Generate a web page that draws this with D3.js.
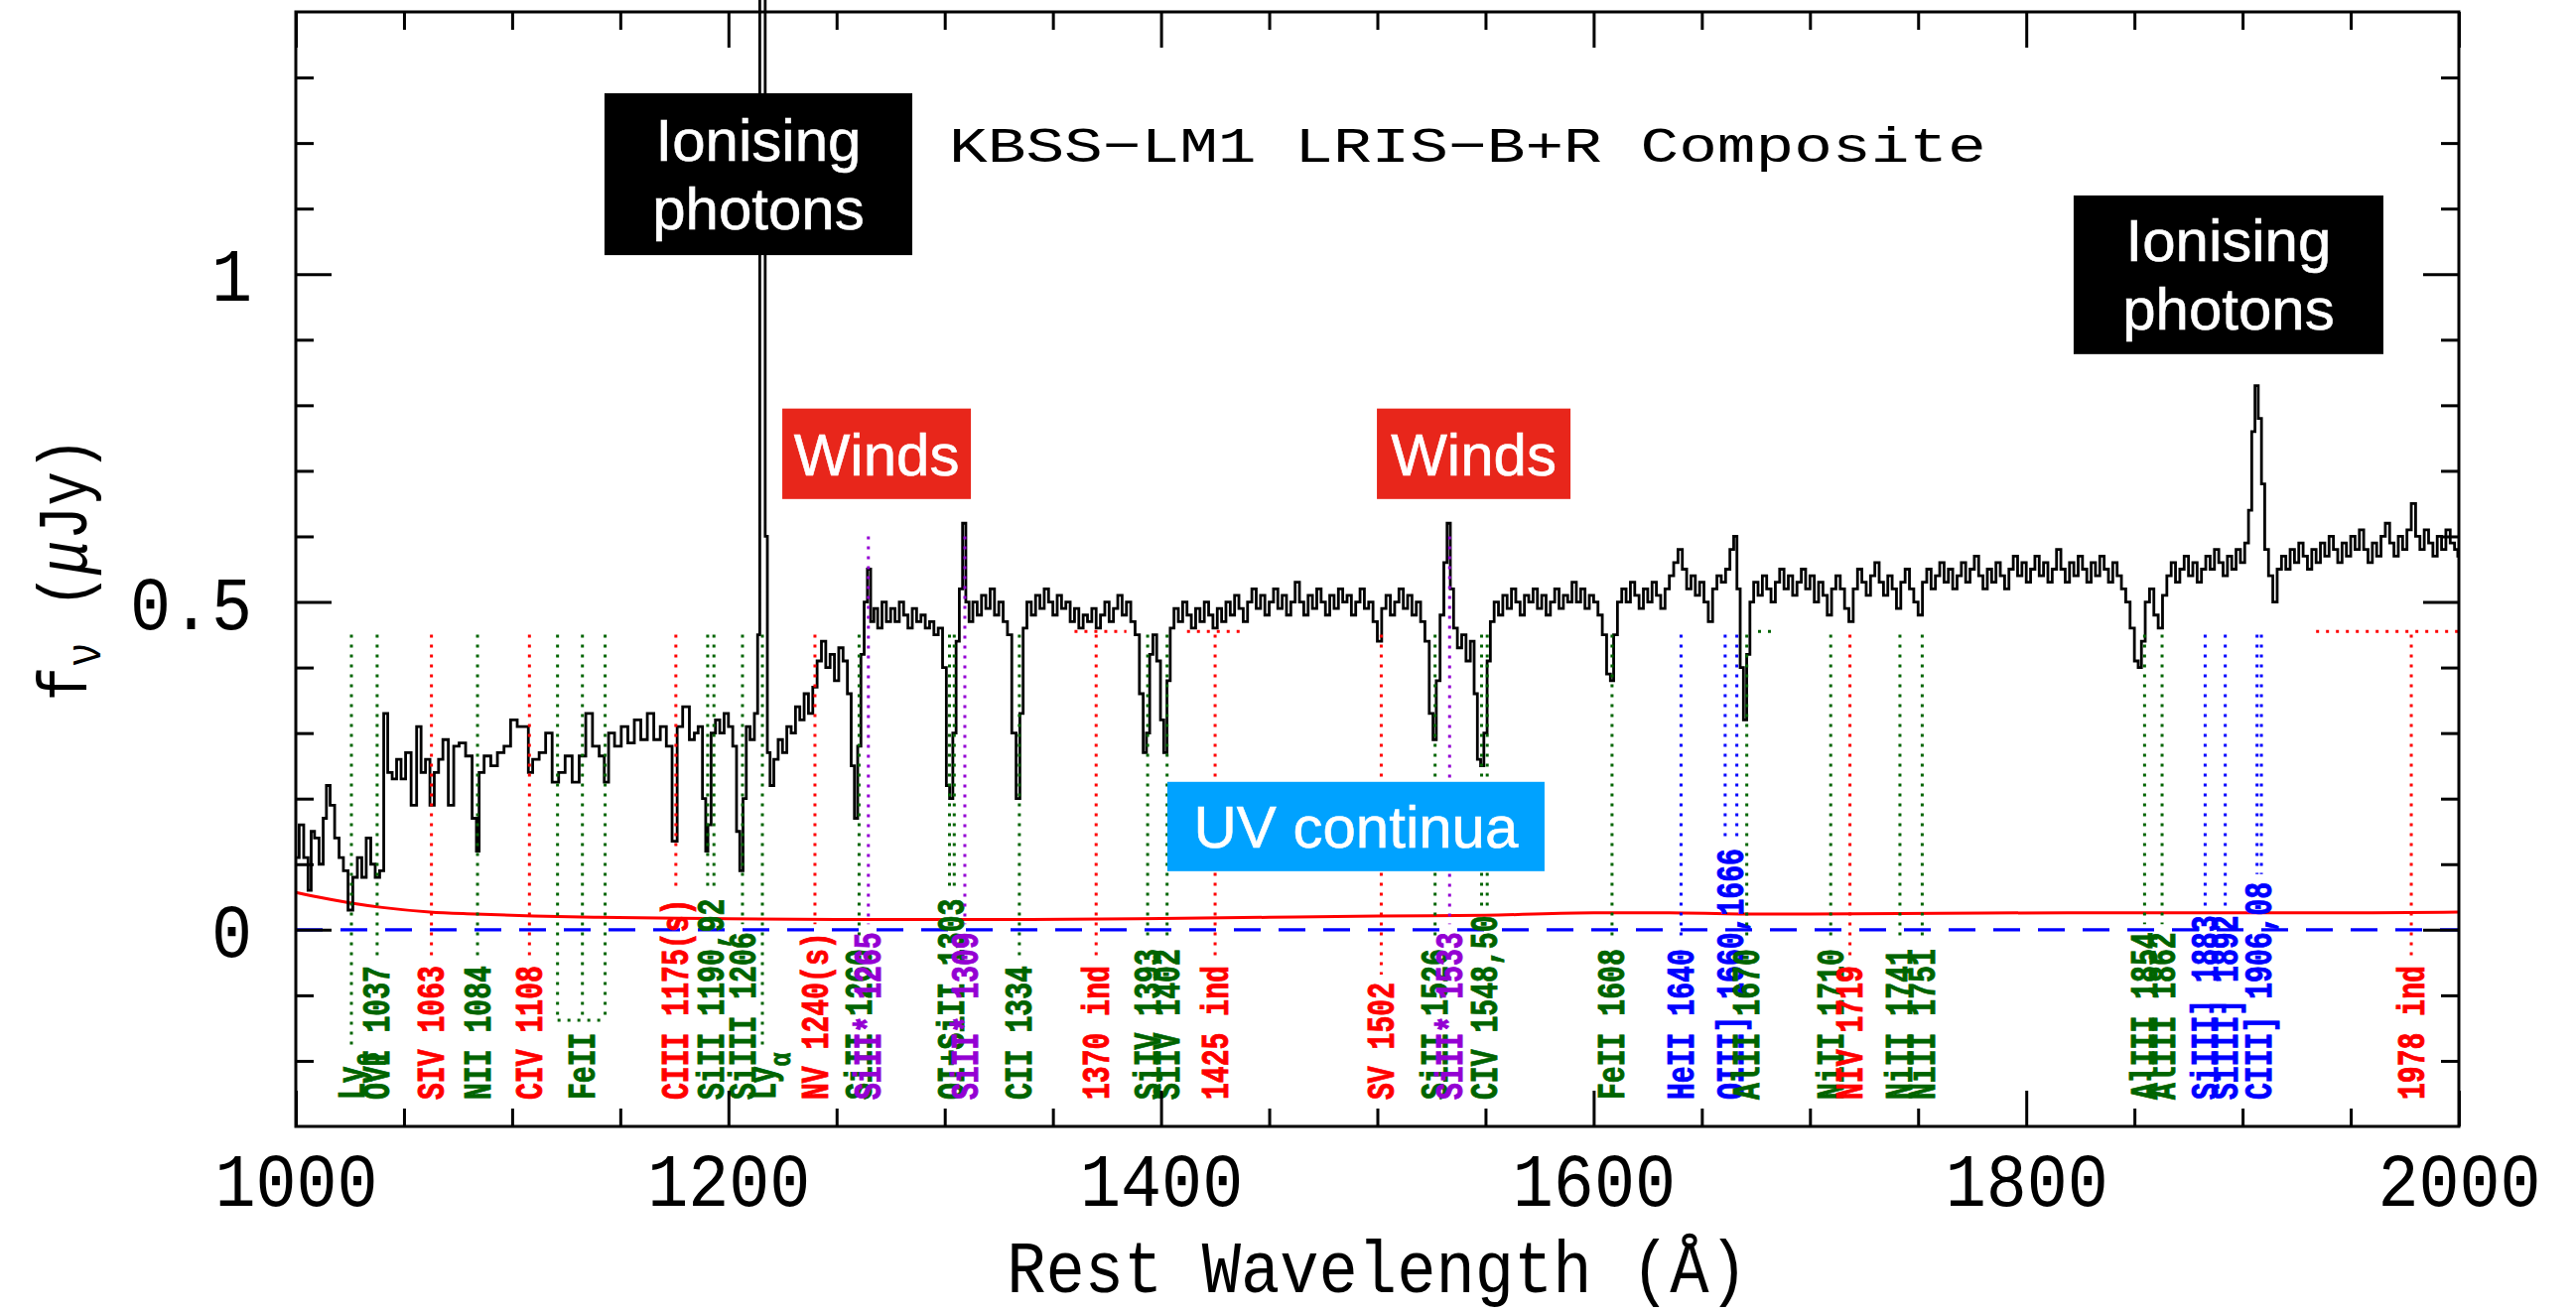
<!DOCTYPE html>
<html>
<head>
<meta charset="utf-8">
<script src="https://cdn.jsdelivr.net/npm/d3@7"></script>
<style>
  body { margin: 0; background: #fff; }
  svg { display: block; overflow: visible; }
</style>
</head>
<body>
<svg id="chart" width="2595" height="1323"></svg>
<script>
// ---- Composite spectrum (rest wavelength in Angstrom, flux density in microJy) ----
const wavelength = [
  1000.5,1002.6,1004.7,1006.6,1007.6,1009.7,1011.8,1013.5,1014.8,1016.9,1019,1021,1023,1025.3,1027.4,1029.5,1031.5,1033.6,1035.7,1037.7,1039.8,
  1041.5,1043.5,1045.6,1047.6,1049.7,1051.8,1054.8,1056.9,1058.9,1061,1063,1065,1067,1069,1072,1074,1077,1080,1083,1084,1085.5,1088.6,
  1091.7,1094.7,1097.8,1100.8,1103.9,1107,1108,1111,1114,1117,1120,1123,1126,1129.5,1132.5,1135.6,1138.7,1141.8,1143.4,1145.8,1148.9,
  1152,1155,1158,1161,1164,1167,1170,1172.6,1175.3,1177.3,1180.4,1183.5,
  1185,1187,1189,1190,1191,1193,1195,1197,1199,1201,1203,1204.5,1206,1207.5,1209,1211,1213,1214,1215,1216.5,1217.5,1218.5,1220,1222,
  1224,1226,1228,1230,1232,1234,1236,1238,1240,1242,1244,1246,1248,1250,1252,1254,1256,1257.5,1259,1260.5,1262,1263.5,1265,1266.5,
  1268,1270,1272,1274,1276,1278,1280,1282,1284,1286,1288,1290,1292,1294,1296,1298,1300,1301.5,1303,1304.5,1306,1307.5,1309,1310.5,
  1312,1314,1316,1318,1320,1322,1324,1326,1328,1330,1332,1334,1335.5,1337,1339,1341,1343,1345,1347,1349,1351,1353,1355,1357,1359,
  1361,1363,1365,1367,1369,1371,1373,1375,1377,1379,1381,1383,1385,1387,1389,1391,1392.5,1394,1395.5,1397,1399,1400.5,1402,1403.5,
  1405,1407,1409,1411,1413,1415,1417,1419,1421,1423,1425,1427,1429,1431,1433,1435,1437,1439,1441,1443,1445,1447,1449,1451,1453,1455,
  1457,1459,1461,1463,1465,1467,1469,1471,1473,1475,1477,1479,1481,1483,1485,1487,1489,1491,1493,1495,1497,1499,1501,1503,1505,1507,
  1509,1511,1513,1515,1517,1519,1521,1523,1525,1526.5,1528,1530,1531.5,1533,1534.5,1536,1538,1540,1542,1544,1545.5,1547,1548.5,1550,
  1551.5,1553,1555,1557,1559,1561,1563,1565,1567,1569,1571,1573,1575,1577,1579,1581,1583,1585,1587,1589,1591,1593,1595,1597,1599,
  1601,1603,1605,1607,1608.5,1610,1612,1614,1616,1618,1620,1622,1624,1626,1628,1630,1632,1634,1636,1638,1640,1642,1644,1646,1648,
  1650,1652,1654,1656,1658,1660,1662,1664,1665.5,1667,1668.5,1670,1671.5,1673,1675,1677,1679,1681,1683,1685,1687,1689,1691,1693,1695,
  1697,1699,1701,1703,1705,1707,1709,1711,1713,1715,1717,1719,1721,1723,1725,1727,1729,1731,1733,1735,1737,1739,1741,1743,1745,1747,
  1749,1751,1753,1755,1757,1759,1761,1763,1765,1767,1769,1771,1773,1775,1777,1779,1781,1783,1785,1787,1789,1791,1793,1795,1797,1799,
  1801,1803,1805,1807,1809,1811,1813,1815,1817,1819,1821,1823,1825,1827,1829,1831,1833,1835,1837,1839,1841,1843,1845,1847,1849,1851,
  1852.5,1854,1856,1858,1860,1862,1864,1866,1868,1870,1872,1874,1876,1878,1880,1882,1884,1886,1888,1890,1892,1894,1896,1898,1900,1902,
  1903.5,1905,1906.5,1908,1909.5,1911,1913,1915,1917,1919,1921,1923,1925,1927,1929,1931,1933,1935,1937,1939,1941,1943,1945,1947,1949,
  1951,1953,1955,1957,1959,1961,1963,1965,1967,1969,1971,1973,1975,1977,1979,1981,1983,1985,1987,1989,1991,1993,1995,1997,1999,2000
];
const flux = [
  0.11,0.16,0.11,0.06,0.15,0.14,0.10,0.17,0.22,0.19,0.14,0.11,0.09,0.03,0.08,0.11,0.08,0.14,0.10,0.08,0.09,
  0.33,0.24,0.23,0.26,0.23,0.27,0.19,0.31,0.24,0.26,0.19,0.24,0.26,0.29,0.19,0.28,0.285,0.265,0.17,0.12,0.24,0.265,
  0.25,0.27,0.28,0.32,0.31,0.31,0.24,0.26,0.27,0.30,0.225,0.24,0.265,0.225,0.265,0.33,0.28,0.265,0.225,0.30,0.28,
  0.31,0.285,0.32,0.29,0.33,0.29,0.31,0.28,0.135,0.31,0.34,0.29,
  0.30,0.31,0.20,0.12,0.16,0.30,0.32,0.30,0.33,0.31,0.28,0.15,0.09,0.20,0.31,0.29,0.33,0.45,1.50,1.50,0.60,0.27,0.22,0.26,
  0.29,0.27,0.31,0.30,0.34,0.32,0.36,0.33,0.37,0.41,0.44,0.40,0.42,0.38,0.43,0.41,0.36,0.25,0.17,0.28,0.42,0.50,0.55,0.47,
  0.49,0.46,0.50,0.47,0.49,0.47,0.50,0.48,0.46,0.49,0.47,0.48,0.46,0.47,0.45,0.46,0.40,0.22,0.20,0.30,0.44,0.52,0.62,0.50,
  0.47,0.50,0.48,0.51,0.49,0.52,0.48,0.50,0.47,0.45,0.30,0.20,0.33,0.46,0.50,0.48,0.51,0.49,0.52,0.50,0.48,0.51,0.49,0.50,0.47,
  0.49,0.46,0.48,0.47,0.49,0.46,0.48,0.50,0.47,0.49,0.51,0.48,0.50,0.47,0.45,0.36,0.27,0.30,0.42,0.45,0.41,0.32,0.27,0.38,
  0.46,0.49,0.47,0.50,0.48,0.46,0.49,0.47,0.50,0.48,0.46,0.49,0.47,0.50,0.48,0.51,0.49,0.47,0.50,0.52,0.49,0.51,0.48,0.50,0.52,0.49,
  0.51,0.48,0.50,0.53,0.50,0.48,0.51,0.49,0.52,0.50,0.48,0.51,0.49,0.52,0.50,0.51,0.48,0.50,0.52,0.49,0.50,0.47,0.44,0.49,0.51,0.48,
  0.50,0.52,0.49,0.51,0.48,0.50,0.47,0.44,0.33,0.29,0.38,0.48,0.56,0.62,0.52,0.46,0.43,0.45,0.41,0.44,0.36,0.26,0.25,0.30,
  0.41,0.47,0.50,0.48,0.51,0.49,0.52,0.50,0.48,0.51,0.50,0.52,0.49,0.51,0.48,0.50,0.52,0.49,0.51,0.50,0.53,0.50,0.52,0.49,0.51,
  0.50,0.48,0.45,0.39,0.38,0.45,0.50,0.52,0.50,0.53,0.51,0.49,0.52,0.50,0.53,0.51,0.49,0.52,0.54,0.56,0.58,0.55,0.52,0.54,0.51,
  0.53,0.50,0.47,0.52,0.54,0.53,0.55,0.58,0.60,0.52,0.40,0.32,0.42,0.50,0.53,0.51,0.54,0.52,0.50,0.53,0.55,0.52,0.54,0.51,0.53,
  0.55,0.52,0.54,0.50,0.53,0.51,0.48,0.52,0.54,0.52,0.49,0.47,0.52,0.55,0.53,0.51,0.54,0.56,0.53,0.51,0.54,0.52,0.49,0.53,0.55,0.52,
  0.50,0.48,0.53,0.55,0.52,0.54,0.56,0.53,0.55,0.52,0.54,0.56,0.53,0.55,0.57,0.54,0.52,0.55,0.53,0.56,0.54,0.52,0.55,0.57,0.54,0.56,
  0.53,0.55,0.57,0.54,0.56,0.53,0.55,0.58,0.55,0.53,0.56,0.54,0.57,0.55,0.53,0.56,0.54,0.57,0.55,0.53,0.56,0.54,0.52,0.50,0.46,0.41,
  0.40,0.44,0.50,0.52,0.48,0.46,0.51,0.54,0.56,0.53,0.55,0.57,0.54,0.56,0.53,0.55,0.57,0.55,0.58,0.56,0.54,0.57,0.55,0.58,0.56,0.59,
  0.64,0.76,0.83,0.78,0.68,0.58,0.54,0.50,0.55,0.57,0.55,0.58,0.56,0.59,0.57,0.55,0.58,0.56,0.59,0.57,0.60,0.58,0.56,0.59,0.57,
  0.60,0.58,0.61,0.58,0.56,0.59,0.57,0.60,0.62,0.59,0.57,0.60,0.58,0.61,0.65,0.60,0.58,0.61,0.59,0.57,0.60,0.58,0.61,0.59,0.58,0.57
];

// ---- Error spectrum ----
const errWave = [1000,1010,1025,1040,1062,1083,1110,1140,1190,1250,1340,1400,1450,1500,1550,1600,1635,1668,1700,1760,1820,1960,2000];
const errFlux = [0.057,0.050,0.041,0.034,0.027,0.024,0.021,0.019,0.017,0.0155,0.0155,0.017,0.019,0.021,0.022,0.026,0.026,0.024,0.024,0.025,0.026,0.026,0.027];

// ---- Axis ticks ----
const xMajorTicks = [1000, 1200, 1400, 1600, 1800, 2000];
const xMinorTicks = [1050,1100,1150,1250,1300,1350,1450,1500,1550,1650,1700,1750,1850,1900,1950];
const yMajorTicks = [0, 0.5, 1];
const yMinorTicks = [-0.2,-0.1,0.1,0.2,0.3,0.4,0.6,0.7,0.8,0.9,1.1,1.2,1.3];

// ---- Line identifications ----
const lineIds = [
  { w: [1025.7], text: "Ly", sub: "β", kind: "ism" },
  { w: [1037.6], text: "OVI 1037", kind: "ism" },
  { w: [1062.7], text: "SIV 1063", kind: "stellar" },
  { w: [1084.0], text: "NII 1084", kind: "ism" },
  { w: [1108.0], text: "CIV 1108", kind: "stellar" },
  { w: [1121.0, 1132.5, 1143.0], text: "FeII", kind: "ism", bracket: -0.138 },
  { w: [1175.7], text: "CIII 1175(s)", kind: "stellar" },
  { w: [1190.4, 1193.3], text: "SiII 1190,92", kind: "ism" },
  { w: [1206.5], text: "SiIII 1206", kind: "ism" },
  { w: [1215.7], text: "Ly", sub: "α", kind: "ism" },
  { w: [1240.0], text: "NV 1240(s)", kind: "stellar" },
  { w: [1260.4], text: "SiII 1260", kind: "ism" },
  { w: [1264.7], text: "SiII* 1265", kind: "fine" },
  { w: [1302.2, 1304.4], text: "OI+SiII 1303", kind: "ism" },
  { w: [1309.3], text: "SiII* 1309", kind: "fine" },
  { w: [1334.5], text: "CII 1334", kind: "ism" },
  { w: [1370.0], text: "1370 ind", kind: "stellar", band: [1360, 1384] },
  { w: [1393.8], text: "SiIV 1393", kind: "ism" },
  { w: [1402.8], text: "SiIV 1402", kind: "ism" },
  { w: [1425.0], text: "1425 ind", kind: "stellar", band: [1412, 1437] },
  { w: [1501.8], text: "SV 1502", kind: "stellar" },
  { w: [1526.7], text: "SiII 1526", kind: "ism" },
  { w: [1533.4], text: "SiII* 1533", kind: "fine" },
  { w: [1548.2, 1550.8], text: "CIV 1548,50", kind: "ism" },
  { w: [1608.5], text: "FeII 1608", kind: "ism" },
  { w: [1640.4], text: "HeII 1640", kind: "nebular" },
  { w: [1660.8, 1666.2], text: "OIII] 1660,1666", kind: "nebular" },
  { w: [1670.8], text: "AlII 1670", kind: "ism", band: [1676, 1685] },
  { w: [1709.6], text: "NiII 1710", kind: "ism" },
  { w: [1718.5], text: "NIV 1719", kind: "stellar" },
  { w: [1741.6], text: "NiII 1741", kind: "ism" },
  { w: [1751.9], text: "NiII 1751", kind: "ism" },
  { w: [1854.7], text: "AlIII 1854", kind: "ism" },
  { w: [1862.8], text: "AlIII 1862", kind: "ism" },
  { w: [1882.7], text: "SiIII] 1883", kind: "nebular" },
  { w: [1892.0], text: "SiIII] 1892", kind: "nebular" },
  { w: [1906.7, 1908.7], text: "CIII] 1906,08", kind: "nebular" },
  { w: [1978.0], text: "1978 ind", kind: "stellar", band: [1934, 2000] }
];
const kindColor = { ism: "#006400", stellar: "#ff0000", fine: "#9400d3", nebular: "#0000ff" };
const kindTop = { ism: 0.45, stellar: 0.45, fine: 0.6, nebular: 0.45 };

// ---- Callouts ----
const callouts = [
  { lines: ["Ionising", "photons"], w0: 1142.7, w1: 1285.0, f0: 1.029, f1: 1.276, fill: "#000000" },
  { lines: ["Ionising", "photons"], w0: 1821.9, w1: 1965.1, f0: 0.878, f1: 1.120, fill: "#000000" },
  { lines: ["Winds"], w0: 1224.9, w1: 1312.1, f0: 0.657, f1: 0.795, fill: "#e8261b" },
  { lines: ["Winds"], w0: 1499.8, w1: 1589.3, f0: 0.657, f1: 0.795, fill: "#e8261b" },
  { lines: ["UV continua"], w0: 1402.9, w1: 1577.3, f0: 0.0893, f1: 0.2256, fill: "#00a2ff" }
];

// ---- Layout ----
const plotLeft = 298, plotRight = 2477, plotTop = 12, plotBottom = 1135;
const x = d3.scaleLinear().domain([1000, 2000]).range([plotLeft, plotRight]);
const y = d3.scaleLinear().domain([-0.3, 1.4]).range([plotBottom, plotTop]);
const svg = d3.select("#chart");

const monoFont = "'Liberation Mono', 'DejaVu Sans Mono', monospace";
const sansFont = "'Liberation Sans', Arial, sans-serif";

// zero level
svg.append("line")
  .attr("x1", x(1000)).attr("x2", x(2000)).attr("y1", y(0)).attr("y2", y(0))
  .attr("stroke", "#0000ff").attr("stroke-width", 3.2).attr("stroke-dasharray", "27,18");

// error spectrum
svg.append("path")
  .datum(errWave.map((w, i) => [w, errFlux[i]]))
  .attr("fill", "none").attr("stroke", "#ff0000").attr("stroke-width", 3)
  .attr("d", d3.line().x(d => x(d[0])).y(d => y(d[1])).curve(d3.curveMonotoneX));

// spectrum
svg.append("path")
  .datum(wavelength.map((w, i) => [w, flux[i]]))
  .attr("fill", "none").attr("stroke", "#000").attr("stroke-width", 2.8)
  .attr("stroke-linejoin", "miter")
  .attr("d", d3.line().x(d => x(d[0])).y(d => y(d[1])).curve(d3.curveStep));

// line identifications
const labelSize = 38, labelScale = 0.74, labelBase = 1108, dotStyle = "3,7";
const idLayer = svg.append("g");
lineIds.forEach(d => {
  const color = kindColor[d.kind];
  const cx = x(d3.mean(d.w));
  const g = idLayer.append("g")
    .attr("transform", `translate(${cx + 0.33 * labelSize},${labelBase}) rotate(-90) scale(${labelScale},1)`);
  const t = g.append("text")
    .attr("font-family", monoFont).attr("font-weight", "bold")
    .attr("font-size", labelSize).attr("fill", color)
    .attr("stroke", color).attr("stroke-width", 0.9)
    .text(d.text);
  if (d.sub) t.append("tspan").attr("dy", 0.4 * labelSize).attr("font-size", labelSize * 0.8).text(d.sub);
  const len = t.node().getComputedTextLength() * labelScale;
  const yEnd = d.bracket !== undefined ? y(d.bracket) : labelBase - len - 8;
  d.w.forEach(w => {
    idLayer.append("line")
      .attr("x1", x(w)).attr("x2", x(w))
      .attr("y1", y(kindTop[d.kind])).attr("y2", yEnd)
      .attr("stroke", color).attr("stroke-width", 3).attr("stroke-dasharray", dotStyle);
  });
  if (d.bracket !== undefined) {
    idLayer.append("line")
      .attr("x1", x(d.w[0])).attr("x2", x(d.w[d.w.length - 1]))
      .attr("y1", yEnd).attr("y2", yEnd)
      .attr("stroke", color).attr("stroke-width", 3).attr("stroke-dasharray", dotStyle);
  }
  if (d.band) {
    idLayer.append("line")
      .attr("x1", x(d.band[0])).attr("x2", x(d.band[1]))
      .attr("y1", y(0.455)).attr("y2", y(0.455))
      .attr("stroke", color).attr("stroke-width", 3).attr("stroke-dasharray", dotStyle);
  }
});

// frame and ticks (inward on all four sides)
const tickStyle = g => {
  g.select(".domain").remove();
  g.selectAll(".tick line").attr("stroke", "#000").attr("stroke-width", 3);
};
svg.append("g").attr("transform", `translate(0,${plotBottom})`)
  .call(d3.axisBottom(x).tickValues(xMinorTicks).tickSize(-18).tickFormat("")).call(tickStyle);
svg.append("g").attr("transform", `translate(0,${plotTop})`)
  .call(d3.axisTop(x).tickValues(xMinorTicks).tickSize(-18).tickFormat("")).call(tickStyle);
svg.append("g").attr("transform", `translate(0,${plotTop})`)
  .call(d3.axisTop(x).tickValues(xMajorTicks).tickSize(-36).tickFormat("")).call(tickStyle);
const xAxis = svg.append("g").attr("transform", `translate(0,${plotBottom})`)
  .call(d3.axisBottom(x).tickValues(xMajorTicks).tickSize(-36).tickPadding(0).tickFormat(d3.format("d")))
  .call(tickStyle);
xAxis.selectAll(".tick text")
  .attr("y", 80).attr("dy", null)
  .attr("transform", "scale(0.9,1)")
  .attr("font-family", monoFont).attr("font-size", 76).attr("fill", "#000");

svg.append("g").attr("transform", `translate(${plotLeft},0)`)
  .call(d3.axisLeft(y).tickValues(yMinorTicks).tickSize(-18).tickFormat("")).call(tickStyle);
svg.append("g").attr("transform", `translate(${plotRight},0)`)
  .call(d3.axisRight(y).tickValues(yMinorTicks).tickSize(-18).tickFormat("")).call(tickStyle);
svg.append("g").attr("transform", `translate(${plotRight},0)`)
  .call(d3.axisRight(y).tickValues(yMajorTicks).tickSize(-36).tickFormat("")).call(tickStyle);
const yAxis = svg.append("g").attr("transform", `translate(${plotLeft},0)`)
  .call(d3.axisLeft(y).tickValues(yMajorTicks).tickSize(-36).tickFormat(d => String(d))).call(tickStyle);
yAxis.selectAll(".tick text")
  .attr("x", null).attr("dy", "0.35em")
  .attr("transform", "translate(-44,0) scale(0.9,1)")
  .attr("text-anchor", "end")
  .attr("font-family", monoFont).attr("font-size", 76).attr("fill", "#000");

svg.append("rect")
  .attr("x", plotLeft).attr("y", plotTop)
  .attr("width", plotRight - plotLeft).attr("height", plotBottom - plotTop)
  .attr("fill", "none").attr("stroke", "#000").attr("stroke-width", 3);

// axis titles
svg.append("text")
  .attr("transform", `translate(${(plotLeft + plotRight) / 2},1302) scale(0.885,1)`)
  .attr("text-anchor", "middle").attr("font-family", monoFont).attr("font-size", 74)
  .text("Rest Wavelength (Å)");

const yTitle = svg.append("text")
  .attr("transform", `translate(87,${(plotTop + plotBottom) / 2}) rotate(-90) scale(0.82,1)`)
  .attr("text-anchor", "middle").attr("font-family", monoFont).attr("font-size", 70);
yTitle.append("tspan").text("f");
yTitle.append("tspan").attr("font-size", 50).attr("dy", 14).text("ν");
yTitle.append("tspan").attr("dy", -14).text(" (");
yTitle.append("tspan").attr("font-style", "italic").text("μ");
yTitle.append("tspan").text("Jy)");

// plot title
svg.append("text")
  .attr("transform", "translate(956,163) scale(1.29,1)")
  .attr("font-family", monoFont).attr("font-size", 50)
  .text("KBSS\u2212LM1 LRIS\u2212B+R Composite");

// callout boxes
callouts.forEach(c => {
  const x0 = x(c.w0), x1 = x(c.w1), y0 = y(c.f1), y1 = y(c.f0);
  svg.append("rect").attr("x", x0).attr("y", y0).attr("width", x1 - x0).attr("height", y1 - y0).attr("fill", c.fill);
  const cxm = (x0 + x1) / 2, cym = (y0 + y1) / 2;
  const t = svg.append("text").attr("text-anchor", "middle")
    .attr("font-family", sansFont).attr("font-size", 60).attr("fill", "#fff")
    .attr("stroke", "#fff").attr("stroke-width", 0.6);
  if (c.lines.length === 1) {
    t.append("tspan").attr("x", cxm).attr("y", cym + 21.5).text(c.lines[0]);
  } else {
    t.append("tspan").attr("x", cxm).attr("y", cym - 13.5).text(c.lines[0]);
    t.append("tspan").attr("x", cxm).attr("y", cym + 55.5).text(c.lines[1]);
  }
});
</script>
</body>
</html>
